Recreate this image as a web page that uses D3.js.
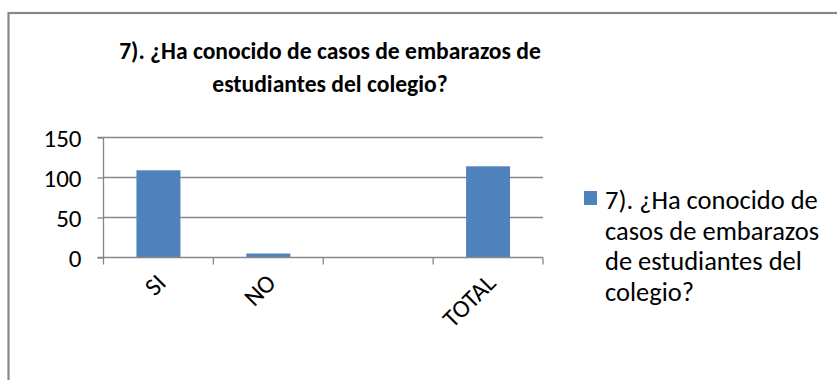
<!DOCTYPE html>
<html>
<head>
<meta charset="utf-8">
<script src="https://cdn.jsdelivr.net/npm/d3@7"></script>
<style>
  html, body { margin: 0; padding: 0; background: #fff; }
  svg { display: block; }
  text { font-family: Carlito, Calibri, Lato, sans-serif; fill: #000; }
</style>
</head>
<body>
<svg id="chart" width="837" height="380"></svg>
<script>
const categories = ["SI", "NO", "", "TOTAL"];
const values = [109, 5, null, 114];
const yTicks = [0, 50, 100, 150];
const titleLines = ["7). ¿Ha conocido de casos de embarazos de", "estudiantes del colegio?"];
const legendLines = ["7). ¿Ha conocido de", "casos de embarazos", "de estudiantes del", "colegio?"];

const svg = d3.select("#chart");
const W = 837, H = 380;
const plot = { left: 103.5, right: 543, top: 137.5, bottom: 257.5 };
const grey = "#878787";
const barColor = "#4f81bd";

svg.append("rect").attr("width", W).attr("height", H).attr("fill", "#fff");
// outer frame (extends off right/bottom)
svg.append("rect").attr("x", 8.5).attr("y", 13).attr("width", W + 20).attr("height", H + 20)
  .attr("fill", "none").attr("stroke", grey).attr("stroke-width", 2.2);

const x = d3.scaleBand().domain(categories.map((c, i) => i)).range([plot.left, plot.right]).paddingInner(0).paddingOuter(0);
const y = d3.scaleLinear().domain([0, 150]).range([plot.bottom, plot.top]);

// gridlines
svg.append("g").selectAll("line").data(yTicks.filter(t => t > 0)).join("line")
  .attr("x1", plot.left).attr("x2", plot.right)
  .attr("y1", d => y(d)).attr("y2", d => y(d))
  .attr("stroke", grey).attr("stroke-width", 1.3);

// bars
const bw = x.bandwidth() / 2.5;
svg.append("g").selectAll("rect").data(values.map((v, i) => ({ v, i })).filter(d => d.v != null)).join("rect")
  .attr("x", d => x(d.i) + (x.bandwidth() - bw) / 2)
  .attr("width", bw)
  .attr("y", d => y(d.v))
  .attr("height", d => y(0) - y(d.v))
  .attr("fill", barColor);

// y axis
const yAxis = d3.axisLeft(y).tickValues(yTicks).tickSize(6).tickPadding(16);
const gy = svg.append("g").attr("transform", `translate(${plot.left},0)`).call(yAxis);
gy.select(".domain").attr("stroke", grey).attr("stroke-width", 1.3).attr("d", `M-6,${plot.top}H0V${plot.bottom}H-6`);
gy.selectAll(".tick line").attr("stroke", grey).attr("stroke-width", 1.3);
gy.selectAll(".tick text").attr("font-size", 25).attr("font-family", "Carlito, Calibri, Lato, sans-serif").attr("fill", "#000").attr("dy", "0.35em");

// x axis
const xPos = d3.scalePoint().domain(d3.range(categories.length + 1)).range([plot.left, plot.right]);
const gx = svg.append("g");
gx.append("line").attr("x1", plot.left).attr("x2", plot.right).attr("y1", plot.bottom).attr("y2", plot.bottom)
  .attr("stroke", grey).attr("stroke-width", 1.3);
gx.selectAll("line.tk").data(xPos.domain()).join("line").attr("class", "tk")
  .attr("x1", d => xPos(d)).attr("x2", d => xPos(d))
  .attr("y1", plot.bottom).attr("y2", plot.bottom + 7)
  .attr("stroke", grey).attr("stroke-width", 1.3);
gx.selectAll("text").data(categories.map((c, i) => ({ c, i }))).join("text")
  .attr("transform", d => `translate(${x(d.i) + x.bandwidth() / 2 + 9},${plot.bottom + 27}) rotate(-45)`)
  .attr("text-anchor", "end")
  .attr("font-size", 25)
  .text(d => d.c);

// title
svg.append("g").selectAll("text").data(titleLines).join("text")
  .attr("x", 330).attr("y", (d, i) => 59 + i * 33)
  .attr("text-anchor", "middle").attr("font-weight", "bold").attr("font-size", 23.6)
  .text(d => d);

// legend
svg.append("rect").attr("x", 584).attr("y", 191).attr("width", 13).attr("height", 14).attr("fill", barColor);
svg.append("g").selectAll("text").data(legendLines).join("text")
  .attr("x", 605).attr("y", (d, i) => 209 + i * 30.5)
  .attr("font-size", 26.5)
  .text(d => d);
</script>
</body>
</html>
